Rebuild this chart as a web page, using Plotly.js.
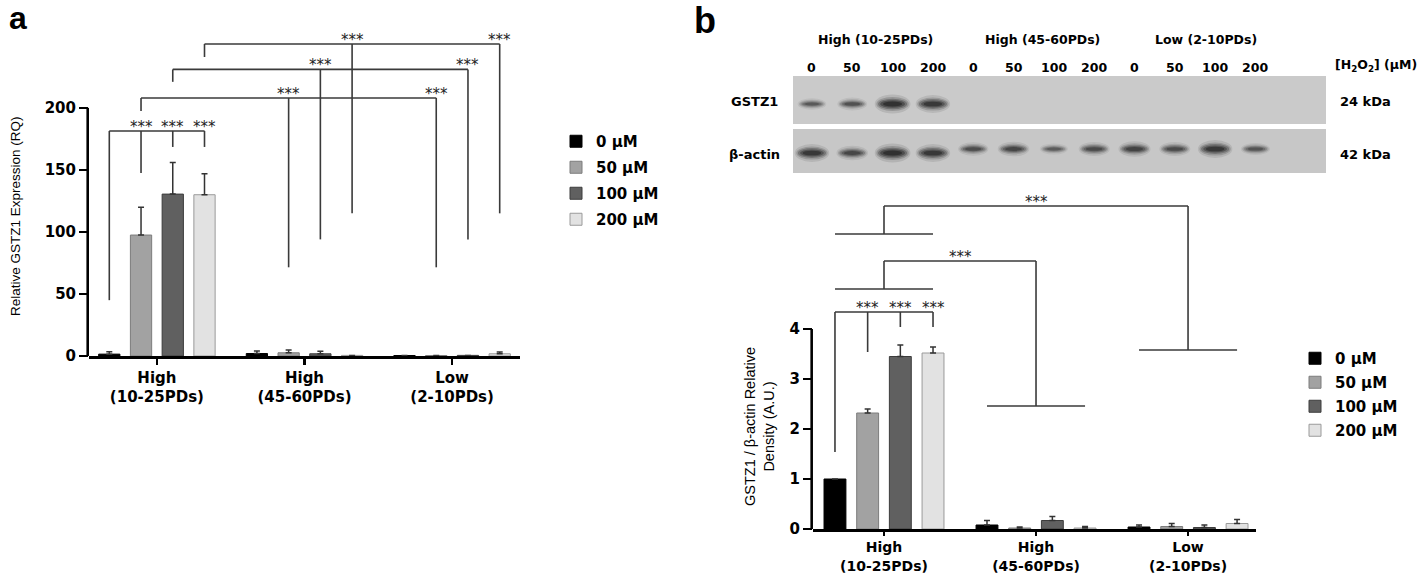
<!DOCTYPE html>
<html><head><meta charset="utf-8">
<script src="https://cdn.plot.ly/plotly-3.0.1.min.js"></script>
<style>html,body{margin:0;padding:0;background:#fff}#chart{width:1418px;height:574px}</style>
</head><body><div id="chart"></div>
<script>
// ---------- data ----------
const groups = ['High<br>(10-25PDs)', 'High<br>(45-60PDs)', 'Low<br>(2-10PDs)'];
const doses = ['0 µM', '50 µM', '100 µM', '200 µM'];

// Panel a: relative GSTZ1 expression (RQ), mean and upper error per dose
const rq0 = [1.5, 2.0, 0.4];
const rq50 = [97.5, 2.6, 0.4];
const rq100 = [130.5, 1.8, 0.5];
const rq200 = [130, 0.5, 1.8];
const rqErr0 = [2.0, 2.0, 0];
const rqErr50 = [22.5, 2.2, 0];
const rqErr100 = [25.5, 2.0, 0];
const rqErr200 = [17, 0, 1.4];

// Panel b: GSTZ1 / beta-actin relative density (A.U.)
const den0 = [1.0, 0.08, 0.04];
const den50 = [2.32, 0.02, 0.05];
const den100 = [3.45, 0.17, 0.03];
const den200 = [3.52, 0.02, 0.11];
const denErr0 = [0, 0.09, 0.04];
const denErr50 = [0.08, 0.02, 0.06];
const denErr100 = [0.23, 0.08, 0.05];
const denErr200 = [0.12, 0.03, 0.08];

// Western blot lanes
const blotGroups = ['High (10-25PDs)', 'High (45-60PDs)', 'Low (2-10PDs)'];
const laneDoses = ['0', '50', '100', '200', '0', '50', '100', '200', '0', '50', '100', '200'];
const gstz1Band = [0.4, 0.5, 1.0, 0.9, 0, 0, 0, 0, 0, 0, 0, 0];
const actinBand = [0.9, 0.65, 1.0, 0.9, 0.55, 0.65, 0.35, 0.6, 0.7, 0.6, 0.9, 0.45];

// ---------- styles ----------
const colors = ['#000000', '#a2a2a2', '#606060', '#e2e2e2'];
const lineColors = ['#000000', '#7c7c7c', '#3c3c3c', '#9a9a9a'];
const W = 1418, H = 574;
const px = v => v / W, py = v => 1 - v / H;
const BOLD = {family: 'DejaVu Sans', weight: 'bold', color: '#000'};
const bargap = 0.14, bargroupgap = 0.33;
const slot = (1 - bargap) / 4;
const bx = (g, k) => g + (k - 1.5) * slot;

const aVals = [rq0, rq50, rq100, rq200], aErr = [rqErr0, rqErr50, rqErr100, rqErr200];
const bVals = [den0, den50, den100, den200], bErr = [denErr0, denErr50, denErr100, denErr200];

const traces = [];
function addBars(vals, errs, xa, ya, legend) {
  vals.forEach((v, k) => traces.push({
    type: 'bar', x: [0, 1, 2], y: v, name: doses[k], xaxis: xa, yaxis: ya,
    legend: legend, legendgroup: legend + k,
    marker: {color: colors[k], line: {color: lineColors[k], width: 1}},
    error_y: {type: 'data', symmetric: false, array: errs[k], arrayminus: [0, 0, 0],
              color: '#333', thickness: 1.5, width: 3},
    hoverinfo: 'skip'
  }));
}
addBars(aVals, aErr, 'x', 'y', 'legend');
addBars(bVals, bErr, 'x2', 'y2', 'legend2');

const shapes = [], annotations = [];
const LC = '#3a3a3a';
function seg(xr, yr, x0, y0, x1, y1, w) {
  shapes.push({type: 'line', xref: xr, yref: yr, x0, y0, x1, y1, line: {color: LC, width: w || 1.6}});
}
function stars(xr, yr, x, y) {
  annotations.push({xref: xr, yref: yr, x, y, text: '***', showarrow: false, xanchor: 'center', yanchor: 'middle',
    yshift: 4, font: {family: 'DejaVu Sans', size: 15, color: '#222'}});
}
function pann(x, y, text, size, extra) {
  annotations.push(Object.assign({xref: 'paper', yref: 'paper', x: px(x), y: py(y), text,
    showarrow: false, xanchor: 'center', yanchor: 'middle',
    font: Object.assign({}, BOLD, {size})}, extra || {}));
}

// axis lines for y (drawn only over 0..max tick)
shapes.push({type: 'line', xref: 'x domain', yref: 'y', x0: -0.003, x1: -0.003, y0: -1.5, y1: 200, line: {color: '#000', width: 2.6}});
shapes.push({type: 'line', xref: 'x2 domain', yref: 'y2', x0: -0.003, x1: -0.003, y0: -0.03, y1: 4, line: {color: '#000', width: 2.6}});

// ---- panel a brackets ----
seg('x', 'y', bx(0, 0), 181.4, bx(0, 3), 181.4);
[45, 147.5, 168.5, 168.5].forEach((b, k) => seg('x', 'y', bx(0, k), 181.4, bx(0, k), b));
[1, 2, 3].forEach(k => stars('x', 'y', bx(0, k), 181.4));
const aH = [208, 231, 251.5], aLeft = [197.5, 221, 241], aBot = [71.5, 94, 115];
[1, 2, 3].forEach((k, i) => {
  seg('x', 'y', bx(0, k), aH[i], bx(2, k), aH[i]);
  seg('x', 'y', bx(0, k), aH[i], bx(0, k), aLeft[i]);
  seg('x', 'y', bx(1, k), aH[i], bx(1, k), aBot[i]);
  seg('x', 'y', bx(2, k), aH[i], bx(2, k), aBot[i]);
  stars('x', 'y', bx(1, k), aH[i]);
  stars('x', 'y', bx(2, k), aH[i]);
});

// ---- panel b brackets ----
seg('x2', 'y2', bx(0, 0), 4.34, bx(0, 3), 4.34);
[1.54, 3.54, 4.04, 4.04].forEach((b, k) => seg('x2', 'y2', bx(0, k), 4.34, bx(0, k), b));
[1, 2, 3].forEach(k => stars('x2', 'y2', bx(0, k), 4.34));
[[4.8, 5.36, 1, 2.46], [5.9, 6.46, 2, 3.58]].forEach(([base, top, g, low]) => {
  seg('x2', 'y2', bx(0, 0), base, bx(0, 3), base);
  seg('x2', 'y2', 0, base, 0, top);
  seg('x2', 'y2', 0, top, g, top);
  seg('x2', 'y2', g, top, g, low);
  seg('x2', 'y2', bx(g, 0), low, bx(g, 3), low);
  stars('x2', 'y2', g / 2, top);
});

// ---- western blot ----
shapes.push({type: 'rect', xref: 'x3 domain', yref: 'y3', x0: 0, x1: 1, y0: 49, y1: 97, fillcolor: '#cacaca', line: {width: 0}, layer: 'below'});
shapes.push({type: 'rect', xref: 'x3 domain', yref: 'y3', x0: 0, x1: 1, y0: 0, y1: 44, fillcolor: '#c7c7c7', line: {width: 0}, layer: 'below'});
const bandLayers = [[1.08, 1.9, 0.10], [0.98, 1.4, 0.18], [0.88, 1.05, 0.26], [0.75, 0.75, 0.34], [0.58, 0.5, 0.42]];
function band(lane, yc, I) {
  if (!(I > 0)) return;
  const w = 0.55 + 0.27 * I, h = 3.5 + 6.5 * I;
  bandLayers.forEach(([fw, fh, a]) => {
    shapes.push({type: 'circle', xref: 'x3', yref: 'y3',
      x0: lane - w * fw / 2, x1: lane + w * fw / 2, y0: yc - h * fh / 2, y1: yc + h * fh / 2,
      fillcolor: 'rgba(12,12,12,' + (a * (0.35 + 0.65 * I)).toFixed(3) + ')', line: {width: 0}});
  });
}
gstz1Band.forEach((I, i) => band(i, 69, I));
actinBand.forEach((I, i) => band(i, i < 4 ? 20 : 24, I));
laneDoses.forEach((d, i) => annotations.push({xref: 'x3', yref: 'paper', x: i, y: py(67), text: d,
  showarrow: false, xanchor: 'center', yanchor: 'middle', font: Object.assign({}, BOLD, {size: 12.5})}));
const groupX = [875, 1042, 1206];
blotGroups.forEach((g, i) => pann(groupX[i], 39, g, 12.5));
pann(755, 101, 'GSTZ1', 13);
pann(755, 154, 'β-actin', 13);
pann(1338, 101, '24 kDa', 13, {xanchor: 'left'});
pann(1338, 154, '42 kDa', 13, {xanchor: 'left'});
pann(1333, 66, '[H<sub>2</sub>O<sub>2</sub>] (µM)', 12.5, {xanchor: 'left'});

// panel letters
annotations.push({xref: 'paper', yref: 'paper', x: px(7), y: py(18), xanchor: 'left', yanchor: 'middle', text: 'a', showarrow: false,
  font: {family: 'Liberation Sans', weight: 'bold', size: 32, color: '#000'}});
annotations.push({xref: 'paper', yref: 'paper', x: px(692), y: py(20), xanchor: 'left', yanchor: 'middle', text: 'b', showarrow: false,
  font: {family: 'Liberation Sans', weight: 'bold', size: 36, color: '#000'}});

// y titles
annotations.push({xref: 'paper', yref: 'paper', x: px(15), y: py(216), xanchor: 'center', yanchor: 'middle',
  text: 'Relative GSTZ1 Expression (RQ)', textangle: -90, showarrow: false,
  font: {family: 'Liberation Sans', size: 13.5, color: '#000'}});
annotations.push({xref: 'paper', yref: 'paper', x: px(759), y: py(426), xanchor: 'center', yanchor: 'middle',
  text: 'GSTZ1 / β-actin Relative<br>Density (A.U.)', textangle: -90, showarrow: false,
  font: {family: 'Liberation Sans', size: 14.5, color: '#000'}});

const xCommon = {tickvals: [0, 1, 2], ticktext: groups, showline: true, linewidth: 2.6, linecolor: '#000',
  ticks: 'outside', ticklen: 6, tickwidth: 2.6, tickcolor: '#000', showgrid: false, zeroline: false,
  tickfont: Object.assign({}, BOLD, {size: 15}), fixedrange: true};
const yCommon = {showline: false, ticks: 'outside', ticklen: 9, tickwidth: 2.6, tickcolor: '#000',
  showgrid: false, zeroline: false, tickfont: Object.assign({}, BOLD, {size: 15}), fixedrange: true};

const legendCommon = {xanchor: 'left', yanchor: 'top', bgcolor: 'rgba(0,0,0,0)', itemwidth: 30,
  font: Object.assign({}, BOLD, {size: 15}), itemclick: false, itemdoubleclick: false};

const layout = {
  width: W, height: H, margin: {l: 0, r: 0, t: 0, b: 0},
  paper_bgcolor: '#fff', plot_bgcolor: 'rgba(0,0,0,0)',
  barmode: 'group', bargap, bargroupgap,
  showlegend: true,
  xaxis: Object.assign({}, xCommon, {domain: [px(89), px(520)], range: [-0.46, 2.46], anchor: 'y'}),
  yaxis: Object.assign({}, yCommon, {domain: [py(356), py(26)], range: [0, 266], tickvals: [0, 50, 100, 150, 200], anchor: 'x'}),
  xaxis2: Object.assign({}, xCommon, {domain: [px(813), px(1256)], range: [-0.467, 2.447], anchor: 'y2',
    ticklen: 4, tickfont: Object.assign({}, BOLD, {size: 14})}),
  yaxis2: Object.assign({}, yCommon, {domain: [py(529), py(189)], range: [0, 6.8], tickvals: [0, 1, 2, 3, 4], anchor: 'x2'}),
  xaxis3: {domain: [px(793), px(1326)], range: [-0.47, 12.75], visible: false, fixedrange: true, anchor: 'y3'},
  yaxis3: {domain: [py(173), py(76)], range: [0, 97], visible: false, fixedrange: true, anchor: 'x3'},
  legend: Object.assign({}, legendCommon, {x: px(556), y: py(125), tracegroupgap: 3.5}),
  legend2: Object.assign({}, legendCommon, {x: px(1295), y: py(342), tracegroupgap: 1.5}),
  shapes, annotations
};
Plotly.newPlot('chart', traces, layout, {staticPlot: true, displayModeBar: false});
</script>
</body></html>
